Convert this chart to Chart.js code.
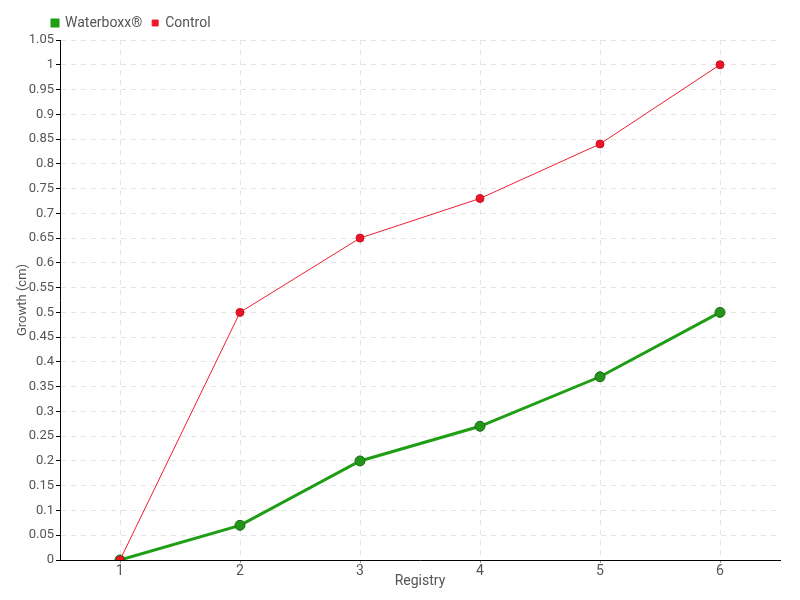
<!DOCTYPE html>
<html>
<head>
<meta charset="utf-8">
<script src="https://cdn.jsdelivr.net/npm/chart.js@4"></script>
<style>
  body { margin: 0; background: #fff; }
  #wrap { width: 800px; height: 600px; }
</style>
</head>
<body>
<div id="wrap"><canvas id="growthChart"></canvas></div>
<script>
const registry = ['1', '2', '3', '4', '5', '6'];
const waterboxx = [0, 0.07, 0.2, 0.27, 0.37, 0.5];
const control = [0, 0.5, 0.65, 0.73, 0.84, 1];

Chart.defaults.font.family = 'Roboto, "Liberation Sans Narrow", sans-serif';
Chart.defaults.color = '#555';

// push the legend over so it starts above the plot, like the original
const legendShift = {
  id: 'legendShift',
  afterLayout(chart) {
    chart.legend.left += 36;
    chart.legend.right += 36;
  },
};

const renderChart = () => {
  const ctx = document.getElementById('growthChart').getContext('2d');
  new Chart(ctx, {
    type: 'line',
    data: {
      labels: registry,
      datasets: [
        {
          label: 'Waterboxx®',
          data: waterboxx,
          borderColor: 'rgba(30, 158, 20, 1)',
          backgroundColor: 'rgba(30, 160, 20, 1)',
          borderWidth: 3,
          pointRadius: 5,
          pointBackgroundColor: 'rgba(35, 150, 25, 1)',
          pointBorderColor: 'rgba(25, 105, 20, 1)',
          pointBorderWidth: 1,
          tension: 0,
          order: 1,
        },
        {
          label: 'Control',
          data: control,
          borderColor: 'rgba(240, 30, 50, 1)',
          backgroundColor: 'rgba(240, 20, 40, 1)',
          borderWidth: 1,
          pointRadius: 4,
          pointBackgroundColor: 'rgba(235, 20, 40, 1)',
          pointBorderColor: 'rgba(200, 20, 30, 1)',
          pointBorderWidth: 1,
          tension: 0,
          order: 0,
        },
      ],
    },
    options: {
      responsive: true,
      maintainAspectRatio: false,
      animation: false,
      layout: { padding: { left: 6, right: 20, top: 6, bottom: 0 } },
      plugins: {
        legend: {
          position: 'top',
          align: 'start',
          labels: {
            boxWidth: 6,
            boxHeight: 6,
            padding: 10,
            font: { size: 14 },
            sort: (a, b) => a.datasetIndex - b.datasetIndex,
          },
        },
        tooltip: { enabled: false },
      },
      scales: {
        x: {
          offset: true,
          afterFit: (scale) => { scale.height = 40; },
          grid: {
            color: '#e4e4e4',
            tickColor: '#999',
            tickLength: 3,
          },
          border: { color: '#000', width: 1, dash: [5, 5] },
          ticks: { font: { size: 14 }, padding: 0 },
          title: {
            display: true,
            text: 'Registry',
            font: { size: 14 },
            padding: { top: 0, bottom: 10 },
          },
        },
        y: {
          min: 0,
          max: 1.05,
          afterFit: (scale) => { scale.width = 54; },
          grid: {
            color: (c) => (c.tick && c.tick.value === 0 ? 'rgba(0,0,0,0)' : '#e4e4e4'),
            tickColor: '#000',
            tickLength: 4,
          },
          border: { color: '#000', width: 1, dash: [5, 5] },
          ticks: {
            stepSize: 0.05,
            font: { size: 13 },
            padding: 2,
            autoSkip: false,
            callback: (v) => String(Math.round(v * 100) / 100),
          },
          title: {
            display: true,
            text: 'Growth (cm)',
            font: { size: 13 },
            padding: { top: 9, bottom: 0 },
          },
        },
      },
    },
    plugins: [legendShift],
  });
};

renderChart();
</script>
</body>
</html>
